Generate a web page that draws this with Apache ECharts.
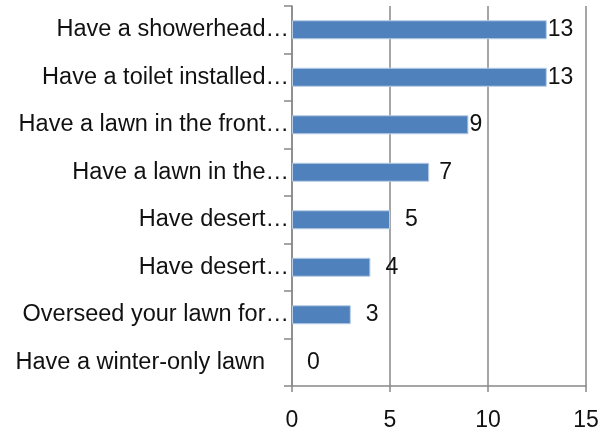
<!DOCTYPE html>
<html>
<head>
<meta charset="utf-8">
<script src="https://cdn.jsdelivr.net/npm/echarts@6/dist/echarts.min.js"></script>
<style>
  html, body { margin: 0; padding: 0; background: #fff; }
  #chart { width: 603px; height: 432px; }
</style>
</head>
<body>
<div id="chart"></div>
<script>
// top to bottom as in the picture
const categories = [
  'Have a showerhead…',
  'Have a toilet installed…',
  'Have a lawn in the front…',
  'Have a lawn in the…',
  'Have desert…',
  'Have desert…',
  'Overseed your lawn for…',
  'Have a winter-only lawn'
]
const values = [13, 13, 9, 7, 5, 4, 3, 0]
const xTicks = [0, 5, 10, 15]

// label gaps (excel nudges them around)
const labelGap = [1, 1, 1, 10, 15, 15, 15, 15]

const chart = echarts.init(document.getElementById('chart'))
const font = 'Liberation Sans, Arial, sans-serif'

chart.setOption({
  animation: false,
  backgroundColor: '#fff',
  grid: { left: 292, right: 17, top: 6, bottom: 45, containLabel: false },
  xAxis: {
    type: 'value',
    min: xTicks[0], max: xTicks[xTicks.length - 1], interval: 5,
    axisLine: { show: true, lineStyle: { color: '#888', width: 1.5 } },
    axisTick: { show: true, length: 6, lineStyle: { color: '#888', width: 1.5 } },
    axisLabel: { color: '#111', fontSize: 23, fontFamily: font, margin: 23 },
    splitLine: { show: true, lineStyle: { color: '#888', width: 1.5 } }
  },
  yAxis: {
    type: 'category',
    inverse: true,
    data: categories.map((c, i) => i === categories.length - 1
      ? { value: c, textStyle: { padding: [4, 24, 0, 0] } }
      : c),
    axisLine: { show: true, lineStyle: { color: '#888', width: 1.5 } },
    axisTick: { show: true, length: 8, inside: false, lineStyle: { color: '#888', width: 1.5 } },
    axisLabel: { color: '#111', fontSize: 23.5, fontFamily: font, margin: 3, padding: [4, 0, 0, 0] },
    splitLine: { show: false }
  },
  series: [{
    type: 'bar',
    barWidth: '40%',
    data: values.map((v, i) => ({
      value: v,
      label: { distance: labelGap[i] },
      itemStyle: v === 0 ? { borderWidth: 0 } : undefined
    })),
    itemStyle: { color: '#4f81bd', borderColor: '#b9cde5', borderWidth: 1 },
    label: {
      show: true, position: 'right',
      color: '#111', fontSize: 23, fontFamily: font, padding: [3, 0, 0, 0]
    }
  }]
})
</script>
</body>
</html>
